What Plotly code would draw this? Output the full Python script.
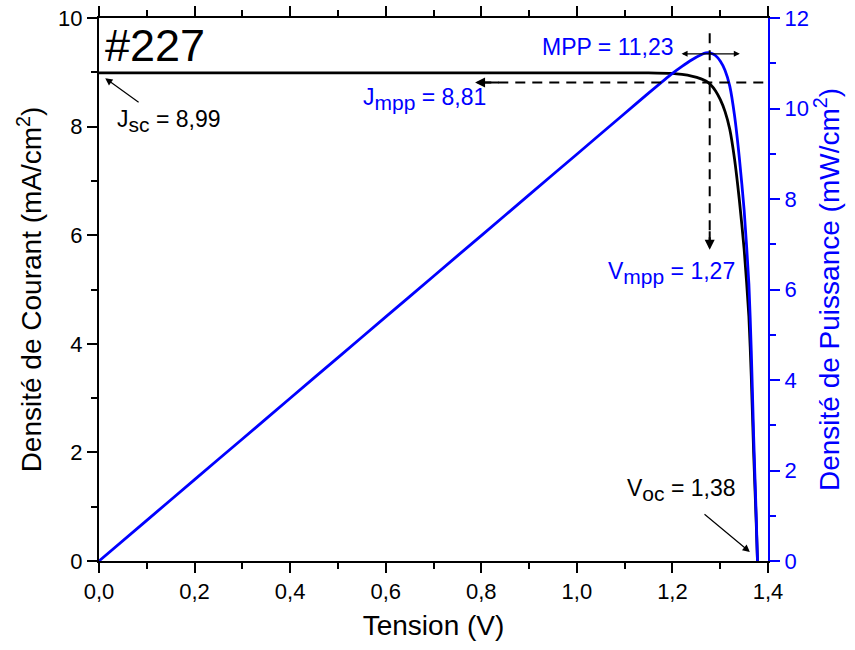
import numpy as np
import plotly.graph_objects as go

# J-V data
voltage = [0.0, 0.1, 0.2, 0.3, 0.4, 0.5, 0.6, 0.7, 0.8, 0.9, 1.0, 1.1, 1.15, 1.2, 1.22,
           1.24, 1.26, 1.27, 1.28, 1.29, 1.30, 1.31, 1.32, 1.33, 1.34, 1.35, 1.36,
           1.365, 1.37, 1.375, 1.378]
current = [8.99, 8.99, 8.99, 8.99, 8.99, 8.99, 8.99, 8.99, 8.99, 8.99, 8.99, 8.99, 8.99,
           8.98, 8.96, 8.93, 8.88, 8.84, 8.77, 8.66, 8.50, 8.28, 7.95, 7.40, 6.65,
           5.75, 4.50, 3.40, 2.00, 0.80, 0.0]
# power density = V * J (mW/cm2)
power = (np.array(voltage) * np.array(current)).tolist()

x_ticks = [0.0, 0.2, 0.4, 0.6, 0.8, 1.0, 1.2, 1.4]
label_id = "#227"
jsc, jmpp, vmpp, mpp, voc = "8,99", "8,81", "1,27", "11,23", "1,38"

BLUE = "#0000FF"
FONT = "Liberation Sans"
AFS = 23


def sub(s):
    return '<sub><span style="font-size:21px">' + s + '</span></sub>'


fig = go.Figure()
fig.add_trace(go.Scatter(x=voltage, y=current, mode="lines", line=dict(color="black", width=2.8, shape="spline", smoothing=0.6),
                         yaxis="y", showlegend=False))
fig.add_trace(go.Scatter(x=voltage, y=power, mode="lines", line=dict(color=BLUE, width=2.8, shape="spline", smoothing=0.6),
                         yaxis="y2", showlegend=False))

# dashed guide lines
fig.add_shape(type="line", xref="x", yref="y", x0=0.80, x1=1.4, y0=8.81, y1=8.81,
              line=dict(color="black", width=2, dash="10px,7px"))
fig.add_shape(type="line", xref="x", yref="y", x0=1.278, x1=1.278, y0=9.72, y1=5.85,
              line=dict(color="black", width=2, dash="10px,7px"))

ann = []
ann.append(dict(x=0.0084, y=9.50, xref="x", yref="y", text=label_id, showarrow=False,
                xanchor="left", yanchor="middle", font=dict(size=45, color="black", family=FONT)))
# Jsc
ann.append(dict(x=0.013, y=8.89, ax=0.086, ay=8.43, xref="x", yref="y", axref="x", ayref="y",
                text="", showarrow=True, arrowhead=2, arrowsize=1.2, arrowwidth=1.2, arrowcolor="black"))
ann.append(dict(x=0.033, y=8.10, xref="x", yref="y", text="J" + sub("sc") + " = " + jsc, showarrow=False,
                xanchor="left", yanchor="middle", font=dict(size=AFS, color="black", family=FONT)))
# Jmpp
ann.append(dict(x=0.787, y=8.81, ax=0.84, ay=8.81, xref="x", yref="y", axref="x", ayref="y",
                text="", showarrow=True, arrowhead=2, arrowsize=1.0, arrowwidth=2, arrowcolor="black"))
ann.append(dict(x=0.548, y=8.50, xref="x", yref="y", text="J" + sub("mpp") + " = " + jmpp, showarrow=False,
                xanchor="left", yanchor="middle", font=dict(size=AFS, color=BLUE, family=FONT)))
# Vmpp
ann.append(dict(x=1.278, y=5.73, ax=1.278, ay=6.1, xref="x", yref="y", axref="x", ayref="y",
                text="", showarrow=True, arrowhead=2, arrowsize=1.0, arrowwidth=2, arrowcolor="black"))
ann.append(dict(x=1.062, y=5.30, xref="x", yref="y", text="V" + sub("mpp") + " = " + vmpp, showarrow=False,
                xanchor="left", yanchor="middle", font=dict(size=AFS, color=BLUE, family=FONT)))
# MPP
ann.append(dict(x=1.207, y=9.47, xref="x", yref="y", text="MPP = " + mpp, showarrow=False,
                xanchor="right", yanchor="middle", font=dict(size=AFS, color=BLUE, family=FONT)))
ann.append(dict(x=1.341, y=9.34, ax=1.216, ay=9.34, xref="x", yref="y", axref="x", ayref="y",
                text="", showarrow=True, arrowhead=2, startarrowhead=2, arrowside="end+start",
                arrowsize=1.0, arrowwidth=1.2, arrowcolor="black"))
# Voc
ann.append(dict(x=1.362, y=0.166, ax=1.264, ay=0.884, xref="x", yref="y", axref="x", ayref="y",
                text="", showarrow=True, arrowhead=2, arrowsize=1.2, arrowwidth=1.2, arrowcolor="black"))
ann.append(dict(x=1.100, y=1.30, xref="x", yref="y", text="V" + sub("oc") + " = " + voc, showarrow=False,
                xanchor="left", yanchor="middle", font=dict(size=AFS, color="black", family=FONT)))

fig.update_layout(
    width=855, height=650,
    margin=dict(l=99, r=87, t=18, b=89),
    plot_bgcolor="white", paper_bgcolor="white",
    separators=", ",
    font=dict(family=FONT, size=22, color="black"),
    annotations=ann,
    xaxis=dict(range=[0, 1.4], tickvals=x_ticks, tickformat=".1f", ticks="outside", ticklen=10, tickwidth=2,
               tickcolor="black", showline=True, linecolor="black", linewidth=2, mirror="ticks",
               showgrid=False, zeroline=False, automargin=False,
               minor=dict(dtick=0.1, tick0=0, ticks="outside", ticklen=6, tickwidth=2, tickcolor="black"),
               title=dict(text="Tension (V)", font=dict(size=28), standoff=12),
               tickfont=dict(size=22)),
    yaxis=dict(range=[0, 10], dtick=2, ticks="outside", ticklen=10, tickwidth=2, tickcolor="black",
               showline=True, linecolor="black", linewidth=2, showgrid=False, zeroline=False, automargin=False,
               minor=dict(dtick=1, ticks="outside", ticklen=6, tickwidth=2, tickcolor="black"),
               title=dict(text="Densité de Courant (mA/cm<sup>2</sup>)", font=dict(size=28), standoff=8),
               tickfont=dict(size=22)),
    yaxis2=dict(range=[0, 12], dtick=2, overlaying="y", side="right", anchor="x",
                ticks="outside", ticklen=10, tickwidth=2, tickcolor=BLUE, automargin=False,
                showline=True, linecolor=BLUE, linewidth=2, showgrid=False, zeroline=False,
                minor=dict(dtick=1, ticks="outside", ticklen=6, tickwidth=2, tickcolor=BLUE),
                title=dict(text="Densité de Puissance (mW/cm<sup>2</sup>)", font=dict(size=28, color=BLUE), standoff=8),
                tickfont=dict(size=22, color=BLUE)),
)

fig.write_html("out.html")
